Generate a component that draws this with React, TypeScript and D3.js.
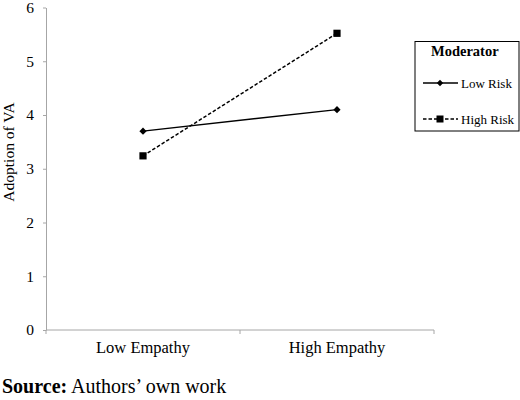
import * as d3 from "d3";
import { useEffect, useRef } from "react";

const categories = ["Low Empathy", "High Empathy"];
const lowRisk = [3.7, 4.1];
const highRisk = [3.24, 5.52];
const yTicks = [0, 1, 2, 3, 4, 5, 6];
const seriesNames = ["Low Risk", "High Risk"];

const width = 520;
const height = 400;
const marginLeft = 46;
const marginRight = 86;
const marginTop = 7.5;
const marginBottom = 70;
const axisColor = "#a6a6a6";
const font = "'Liberation Serif', 'Times New Roman', serif";

const App = () => {
  const gy = useRef<SVGGElement>(null);

  const x = d3
    .scaleBand()
    .domain(categories)
    .range([marginLeft, width - marginRight]);

  const y = d3
    .scaleLinear()
    .domain([0, 6])
    .range([height - marginBottom, marginTop]);

  useEffect(() => {
    d3.select(gy.current as SVGGElement)
      .call(
        d3
          .axisLeft(y)
          .tickValues(yTicks)
          .tickFormat(d3.format("d"))
          .tickSize(3)
          .tickSizeOuter(0)
          .tickPadding(9)
      )
      .call((g) => g.select(".domain").attr("stroke", axisColor))
      .call((g) => g.selectAll(".tick line").attr("stroke", axisColor))
      .call((g) =>
        g
          .selectAll(".tick text")
          .attr("fill", "#000")
          .attr("font-size", 15.5)
          .attr("font-family", font)
      );
  }, [y]);

  const cx = (c: string) => (x(c) ?? 0) + x.bandwidth() / 2;
  const line = d3
    .line<number>()
    .x((_, i) => cx(categories[i]))
    .y((d) => y(d));

  const diamond = (px: number, py: number, r = 3.6) =>
    `M${px},${py - r}L${px + r},${py}L${px},${py + r}L${px - r},${py}Z`;

  const boundaries = [marginLeft, ...categories.map((c) => (x(c) ?? 0) + x.bandwidth())];
  const y0 = y(0);

  const legendX = 415;
  const legendY = 41.5;
  const legendRows = [83, 119];

  return (
    <svg
      width={width}
      height={height}
      viewBox={`0 0 ${width} ${height}`}
      style={{ position: "absolute", left: 0, top: 0, background: "#fff" }}
      fontFamily={font}
    >
      <g ref={gy} transform={`translate(${marginLeft},0)`} />

      {/* x axis */}
      <line x1={marginLeft} x2={width - marginRight} y1={y0} y2={y0} stroke={axisColor} />
      {boundaries.map((bx, i) => (
        <line key={i} x1={bx} x2={bx} y1={y0} y2={y0 + 4} stroke={axisColor} />
      ))}
      {categories.map((c) => (
        <text key={c} x={cx(c)} y={353} textAnchor="middle" fontSize={16.5}>
          {c}
        </text>
      ))}

      <text transform="translate(14,152) rotate(-90)" textAnchor="middle" fontSize={15.5}>
        Adoption of VA
      </text>

      {/* series */}
      <path d={line(lowRisk) ?? ""} fill="none" stroke="#000" strokeWidth={1.5} />
      <path
        d={line(highRisk) ?? ""}
        fill="none"
        stroke="#000"
        strokeWidth={1.5}
        strokeDasharray="3.5,2"
      />
      {lowRisk.map((v, i) => (
        <path key={`l${i}`} d={diamond(cx(categories[i]), y(v))} fill="#000" />
      ))}
      {highRisk.map((v, i) => (
        <rect
          key={`h${i}`}
          x={cx(categories[i]) - 3.6}
          y={y(v) - 3.6}
          width={7.2}
          height={7.2}
          fill="#000"
        />
      ))}

      {/* legend */}
      <rect x={legendX} y={legendY} width={104} height={89.5} fill="#fff" stroke="#000" strokeWidth={1} />
      <text x={431} y={55.5} fontSize={14.5} fontWeight="bold">
        Moderator
      </text>
      {seriesNames.map((name, i) => {
        const ly = legendRows[i];
        return (
          <g key={name}>
            <line
              x1={423}
              x2={458}
              y1={ly}
              y2={ly}
              stroke="#000"
              strokeWidth={1.5}
              strokeDasharray={i === 1 ? "3.5,2" : undefined}
            />
            {i === 0 ? (
              <path d={diamond(440, ly, 3.2)} fill="#000" />
            ) : (
              <rect x={436.5} y={ly - 3.5} width={7} height={7} fill="#000" />
            )}
            <text x={461} y={ly + 4.5} fontSize={13}>
              {name}
            </text>
          </g>
        );
      })}

      <text x={2} y={392.5} fontSize={20}>
        <tspan fontWeight="bold">Source:</tspan> Authors’ own work
      </text>
    </svg>
  );
};

export default App;
